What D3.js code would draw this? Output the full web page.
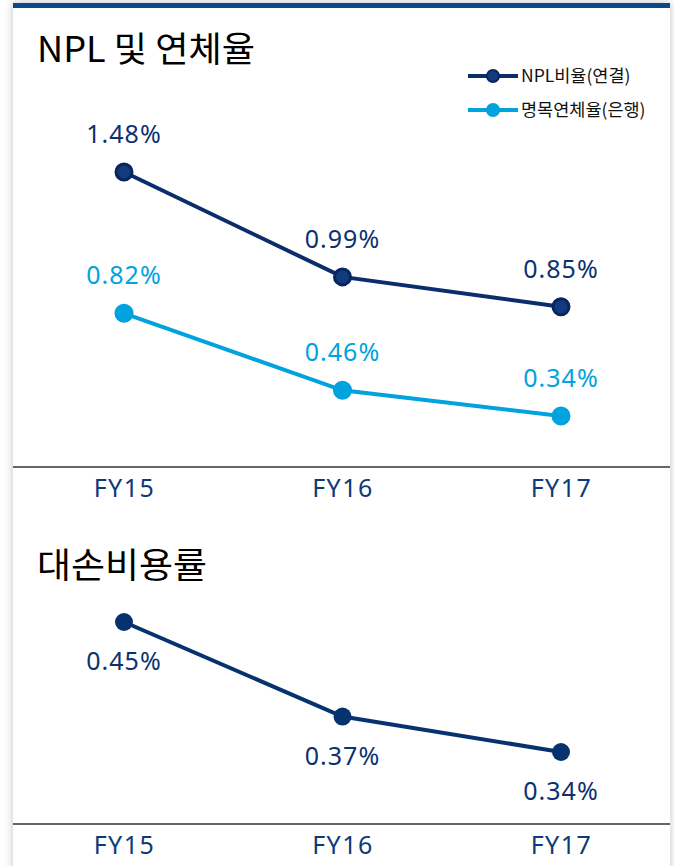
<!DOCTYPE html>
<html>
<head>
<meta charset="utf-8">
<script src="https://cdn.jsdelivr.net/npm/d3@7"></script>
<style>
  body { margin: 0; background: #ffffff; }
  text { font-family: "Noto Sans", "Noto Sans CJK KR", sans-serif; }
  .kr { font-family: "Noto Sans CJK KR", sans-serif; }
</style>
</head>
<body>
<div id="chart"></div>
<script>
// data
const years = ["FY15", "FY16", "FY17"];
const nplRatio = [1.48, 0.99, 0.85];     // NPL비율(연결)
const delinquency = [0.82, 0.46, 0.34];  // 명목연체율(은행)
const creditCost = [0.45, 0.37, 0.34];   // 대손비용률
const seriesNames = ["NPL비율(연결)", "명목연체율(은행)"];

const width = 674;
const height = 866;
const navy = "#0b2d6b";
const sky = "#00a3dd";
const navy2 = "#06336f";

const svg = d3.select("#chart")
  .append("svg")
  .attr("width", width)
  .attr("height", height);

// card with shadow
const defs = svg.append("defs");
const f = defs.append("filter").attr("id", "sh")
  .attr("x", "-5%").attr("y", "-5%").attr("width", "110%").attr("height", "110%");
f.append("feDropShadow").attr("dx", 0).attr("dy", 0)
  .attr("stdDeviation", 4).attr("flood-color", "#000").attr("flood-opacity", 0.25);

svg.append("rect")
  .attr("x", 13).attr("y", 3).attr("width", 657).attr("height", 880)
  .attr("fill", "#fff").attr("filter", "url(#sh)");
svg.append("rect")
  .attr("x", 13).attr("y", 3).attr("width", 657).attr("height", 5)
  .attr("fill", "#0a4a8a");

// shared x scale
const x = d3.scalePoint()
  .domain(years)
  .range([124, 561]);

/* top panel */
const y1 = d3.scaleLinear()
  .domain([0.34, 1.48])
  .range([416, 172]);

svg.append("text")
  .attr("class", "kr")
  .attr("x", 37).attr("y", 62)
  .attr("font-size", 35)
  .attr("textLength", 218)
  .attr("lengthAdjust", "spacingAndGlyphs")
  .attr("fill", "#000")
  .text("NPL 및 연체율");

const line1 = d3.line()
  .x((d, i) => x(years[i]))
  .y(d => y1(d));

const topSeries = [
  {vals: nplRatio, color: navy, stroke: "#082560"},
  {vals: delinquency, color: sky, stroke: sky}
];

topSeries.forEach(s => {
  svg.append("path")
    .datum(s.vals)
    .attr("d", line1)
    .attr("fill", "none")
    .attr("stroke", s.color)
    .attr("stroke-width", 4);

  svg.selectAll(null)
    .data(s.vals)
    .enter()
    .append("circle")
      .attr("cx", (d, i) => x(years[i]))
      .attr("cy", d => y1(d))
      .attr("r", 8)
      .attr("fill", s.color === navy ? "#123a7c" : sky)
      .attr("stroke", s.stroke)
      .attr("stroke-width", 3);

  svg.selectAll(null)
    .data(s.vals)
    .enter()
    .append("text")
      .attr("x", (d, i) => x(years[i]))
      .attr("y", d => y1(d) - 29)
      .attr("text-anchor", "middle")
      .attr("font-size", 25)
      .attr("letter-spacing", 1)
      .attr("fill", s.color === navy ? "#0d3170" : sky)
      .text(d => d.toFixed(2) + "%");
});

// x axis top
const ax1 = svg.append("g")
  .attr("transform", "translate(0,467)")
  .call(d3.axisBottom(x).tickSize(0).tickPadding(12));
ax1.select(".domain").remove();
ax1.append("line")
  .attr("x1", 13).attr("x2", 670)
  .attr("stroke", "#666").attr("stroke-width", 2);
ax1.selectAll(".tick text")
  .attr("font-size", 25)
  .attr("letter-spacing", 1.5)
  .attr("fill", "#0d3a78")
  .attr("font-family", "Noto Sans, sans-serif");

// legend
const legend = svg.append("g");
[navy, sky].forEach((c, i) => {
  const ly = 76 + i * 34;
  legend.append("line")
    .attr("x1", 468).attr("x2", 518)
    .attr("y1", ly).attr("y2", ly)
    .attr("stroke", c).attr("stroke-width", 4);
  legend.append("circle")
    .attr("cx", 493).attr("cy", ly).attr("r", 6)
    .attr("fill", i === 0 ? "#123a7c" : sky)
    .attr("stroke", i === 0 ? "#082560" : sky)
    .attr("stroke-width", 2);
  legend.append("text")
    .attr("class", "kr")
    .attr("x", 521).attr("y", ly + 6)
    .attr("font-size", 17.5)
    .attr("fill", "#111")
    .text(seriesNames[i]);
});

/* bottom panel */
const y2 = d3.scaleLinear()
  .domain([0.34, 0.45])
  .range([752, 622]);

svg.append("text")
  .attr("class", "kr")
  .attr("x", 37).attr("y", 578)
  .attr("font-size", 35)
  .attr("textLength", 170)
  .attr("lengthAdjust", "spacingAndGlyphs")
  .attr("fill", "#000")
  .text("대손비용률");

const line2 = d3.line()
  .x((d, i) => x(years[i]))
  .y(d => y2(d));

svg.append("path")
  .datum(creditCost)
  .attr("d", line2)
  .attr("fill", "none")
  .attr("stroke", navy2)
  .attr("stroke-width", 4);

svg.selectAll(".cc")
  .data(creditCost)
  .enter()
  .append("circle")
    .attr("class", "cc")
    .attr("cx", (d, i) => x(years[i]))
    .attr("cy", d => y2(d))
    .attr("r", 9)
    .attr("fill", navy2);

svg.selectAll(".ccl")
  .data(creditCost)
  .enter()
  .append("text")
    .attr("class", "ccl")
    .attr("x", (d, i) => x(years[i]))
    .attr("y", d => y2(d) + 48)
    .attr("text-anchor", "middle")
    .attr("font-size", 25)
    .attr("letter-spacing", 1)
    .attr("fill", "#0d3170")
    .text(d => d.toFixed(2) + "%");

const ax2 = svg.append("g")
  .attr("transform", "translate(0,824)")
  .call(d3.axisBottom(x).tickSize(0).tickPadding(12));
ax2.select(".domain").remove();
ax2.append("line")
  .attr("x1", 13).attr("x2", 670)
  .attr("stroke", "#666").attr("stroke-width", 2);
ax2.selectAll(".tick text")
  .attr("font-size", 25)
  .attr("letter-spacing", 1.5)
  .attr("fill", "#0d3a78")
  .attr("font-family", "Noto Sans, sans-serif");
</script>
</body>
</html>
